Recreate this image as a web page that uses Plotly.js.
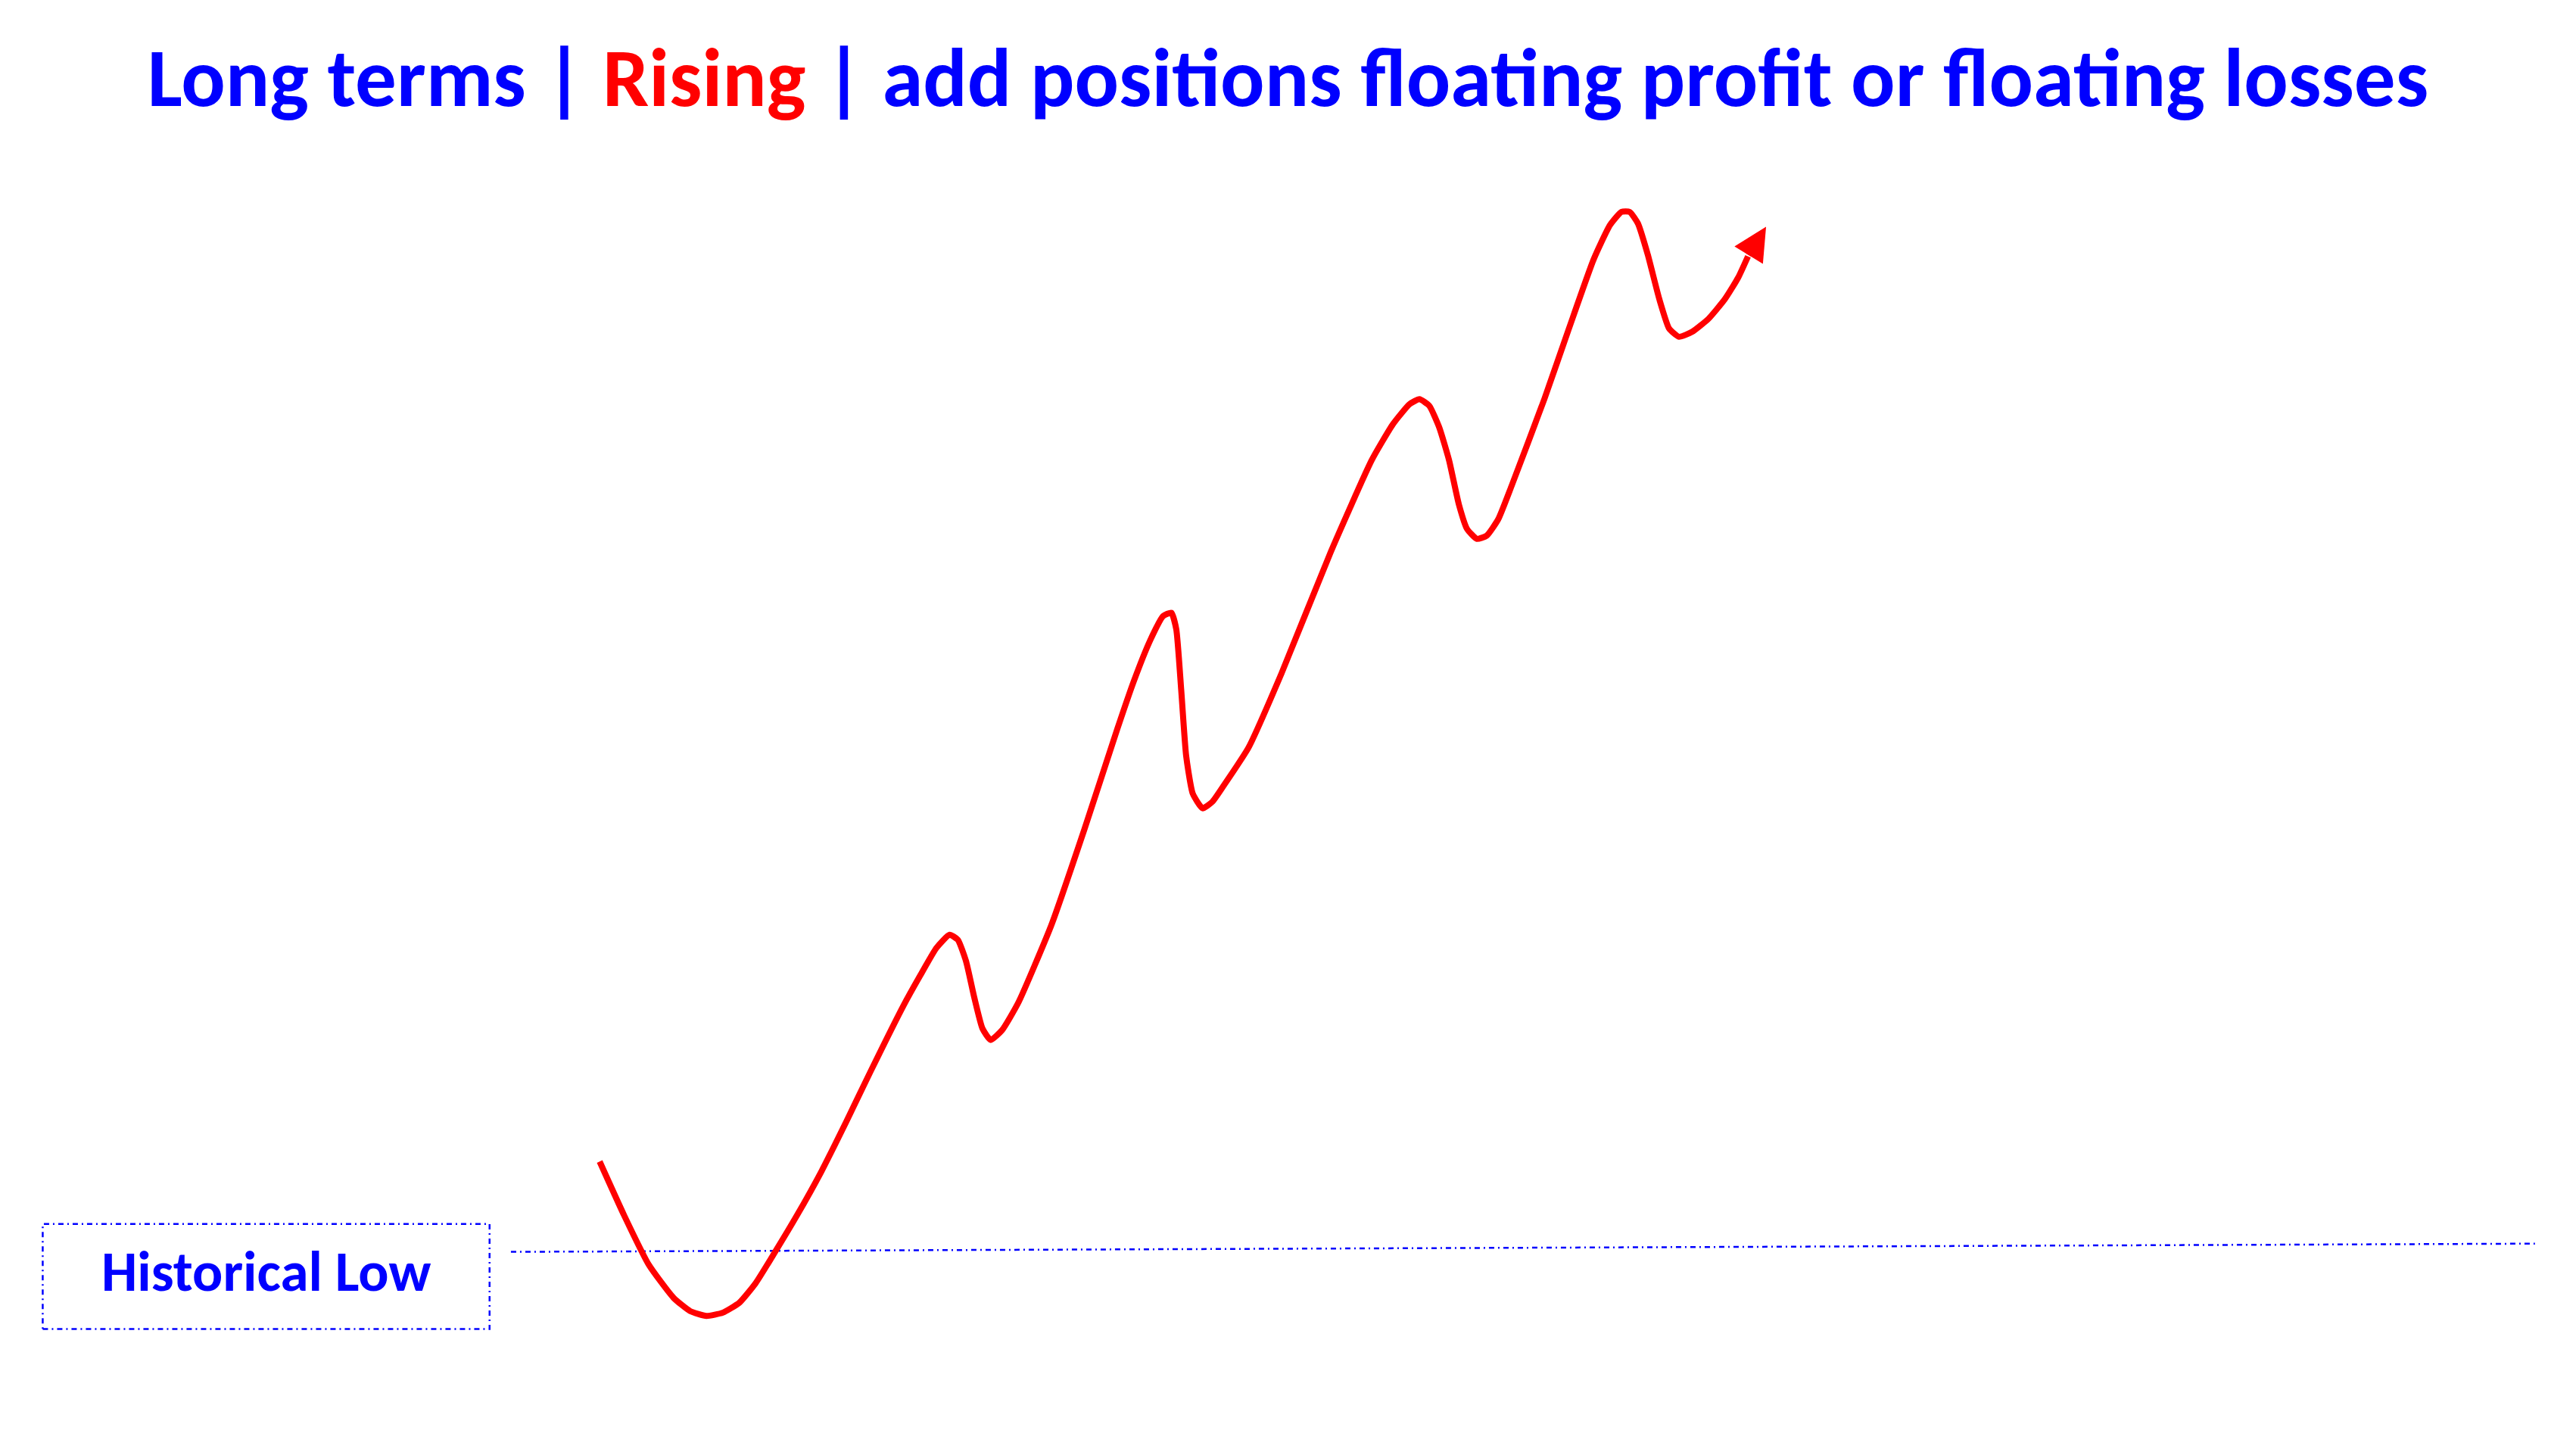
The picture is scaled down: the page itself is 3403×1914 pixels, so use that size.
<!DOCTYPE html>
<html>
<head>
<meta charset="utf-8">
<script src="https://cdn.plot.ly/plotly-3.0.1.min.js"></script>
<style>html,body{margin:0;padding:0;background:#fff;}#chart{width:3403px;height:1914px;}</style>
</head>
<body>
<div id="chart"></div>
<script>
// Price path (abstract units: x = time, y = price level)
const pathX = [365,380,395,410,420,430,440,450,460,470,485,500,515,530,550,560,570,578,583,588,593,598,603,610,620,640,660,680,690,700,708,713,716,719,722,726,732,738,745,760,780,810,835,848,858,864,870,876,882,888,893,899,905,912,920,940,955,970,980,987,992,997,1003,1010,1016,1022,1030,1040,1050,1058,1064];
const pathY = [175,142,112,92,84,81,83,89,101,117,142,169,199,230,270,288,305,313,310,297,275,256,249,255,272,319,377,438,467,492,507,509,499,462,422,399,390,394,404,427,472,546,602,624,636,639,635,622,602,575,560,554,556,566,586,639,682,724,745,753,753,746,727,700,682,677,680,688,700,713,726];
// Arrow tip of the continuing trend
const arrowTipX = 1075, arrowTipY = 744;
// Historical low reference level
const lowLineX = [311, 1543];
const lowLineY = [120, 125];
const lowLabel = "Historical Low";
const titleParts = ["Long terms | ", "Rising", " | add positions floating profit or floating losses"];

const BLUE = "#0000FF", RED = "#FF0000";
const FONT = "Calibri, Carlito, Lato, 'Open Sans', sans-serif";

const traces = [
  {
    x: lowLineX, y: lowLineY, mode: "lines", type: "scatter",
    line: {color: BLUE, width: 2.5, dash: "7px,5px,2px,5px"},
    hoverinfo: "skip", showlegend: false
  },
  {
    x: pathX, y: pathY, mode: "lines", type: "scatter",
    line: {color: RED, width: 8, shape: "spline", smoothing: 0.5},
    hoverinfo: "skip", showlegend: false
  }
];

const layout = {
  width: 3403, height: 1914,
  margin: {l: 0, r: 0, t: 0, b: 0},
  paper_bgcolor: "#ffffff", plot_bgcolor: "#ffffff",
  showlegend: false,
  xaxis: {range: [0, 1568], visible: false, fixedrange: true},
  yaxis: {range: [0, 882], visible: false, fixedrange: true},
  title: {
    text: titleParts[0] + '<span style="color:' + RED + '">' + titleParts[1] + '</span>' + titleParts[2],
    x: 0.5, xanchor: "center", y: 0.9467, yanchor: "middle",
    font: {family: FONT, size: 109, color: BLUE, weight: "bold"}
  },
  shapes: [
    {type: "rect", xref: "x", yref: "y", x0: 26, x1: 298, y0: 73, y1: 137,
     line: {color: BLUE, width: 2.5, dash: "7px,5px,2px,5px"}, fillcolor: "rgba(0,0,0,0)"}
  ],
  annotations: [
    {xref: "x", yref: "y", x: 162, y: 108, text: lowLabel, showarrow: false,
     font: {family: FONT, size: 75, color: BLUE, weight: "bold"}},
    {xref: "x", yref: "y", axref: "x", ayref: "y",
     x: arrowTipX, y: arrowTipY, ax: pathX[pathX.length - 1], ay: pathY[pathY.length - 1],
     text: "", showarrow: true, arrowhead: 2, arrowsize: 1.1, arrowwidth: 8, arrowcolor: RED, standoff: 0}
  ]
};

Plotly.newPlot("chart", traces, layout, {staticPlot: true, displayModeBar: false});
</script>
</body>
</html>
